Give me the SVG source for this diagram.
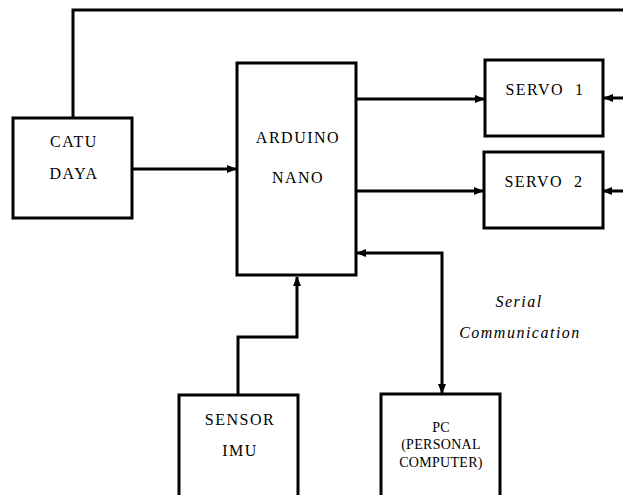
<svg xmlns="http://www.w3.org/2000/svg" width="623" height="495" viewBox="0 0 623 495">
<style>
.box{fill:#fff;stroke:#000;stroke-width:3}
.ln{fill:none;stroke:#000;stroke-width:3}
</style>
<defs>
<marker id="ah" markerUnits="userSpaceOnUse" markerWidth="10" markerHeight="10" viewBox="0 0 10 10" refX="9" refY="5" orient="auto-start-reverse">
<path d="M0,1 L10,5 L0,9 Z" fill="#000"/>
</marker>
</defs>
<rect width="623" height="495" fill="#fff"/>
<g id="connectors">
<path class="ln" d="M73,118 V10 H623"/>
<path class="ln" d="M623,98 H604" marker-end="url(#ah)"/>
<path class="ln" d="M623,191 H603" marker-end="url(#ah)"/>
<path class="ln" d="M132,169 H236" marker-end="url(#ah)"/>
<path class="ln" d="M356,99 H484" marker-end="url(#ah)"/>
<path class="ln" d="M356,191 H483" marker-end="url(#ah)"/>
<path class="ln" d="M238,395 V337 H297 V277" marker-end="url(#ah)"/>
<path class="ln" d="M442,393 V253 H357" marker-start="url(#ah)" marker-end="url(#ah)"/>
</g>
<g font-family="Liberation Serif, DejaVu Serif, serif" font-size="16" letter-spacing="1.5" text-anchor="middle" fill="#000">
<g id="catu-daya">
<rect class="box" x="13" y="118" width="119" height="100"/>
<text x="74" y="147">CATU</text>
<text x="74" y="179">DAYA</text>
</g>
<g id="arduino-nano">
<rect class="box" x="237" y="63" width="119" height="212"/>
<text x="298" y="143">ARDUINO</text>
<text x="298" y="183">NANO</text>
</g>
<g id="servo1">
<rect class="box" x="485" y="60" width="118" height="76"/>
<text x="545" y="95" xml:space="preserve">SERVO  1</text>
</g>
<g id="servo2">
<rect class="box" x="484" y="152" width="119" height="76"/>
<text x="544" y="187" xml:space="preserve">SERVO  2</text>
</g>
<g id="sensor-imu">
<rect class="box" x="179" y="395" width="119" height="110"/>
<text x="240" y="425">SENSOR</text>
<text x="240" y="456">IMU</text>
</g>
<g id="pc" font-size="14" letter-spacing="0.3">
<rect class="box" x="381" y="394" width="119" height="110"/>
<text x="441" y="432">PC</text>
<text x="441" y="449">(PERSONAL</text>
<text x="441" y="467">COMPUTER)</text>
</g>
<g id="serial-label" font-style="italic">
<text x="519" y="307">Serial</text>
<text x="520" y="338">Communication</text>
</g>
</g>
</svg>
